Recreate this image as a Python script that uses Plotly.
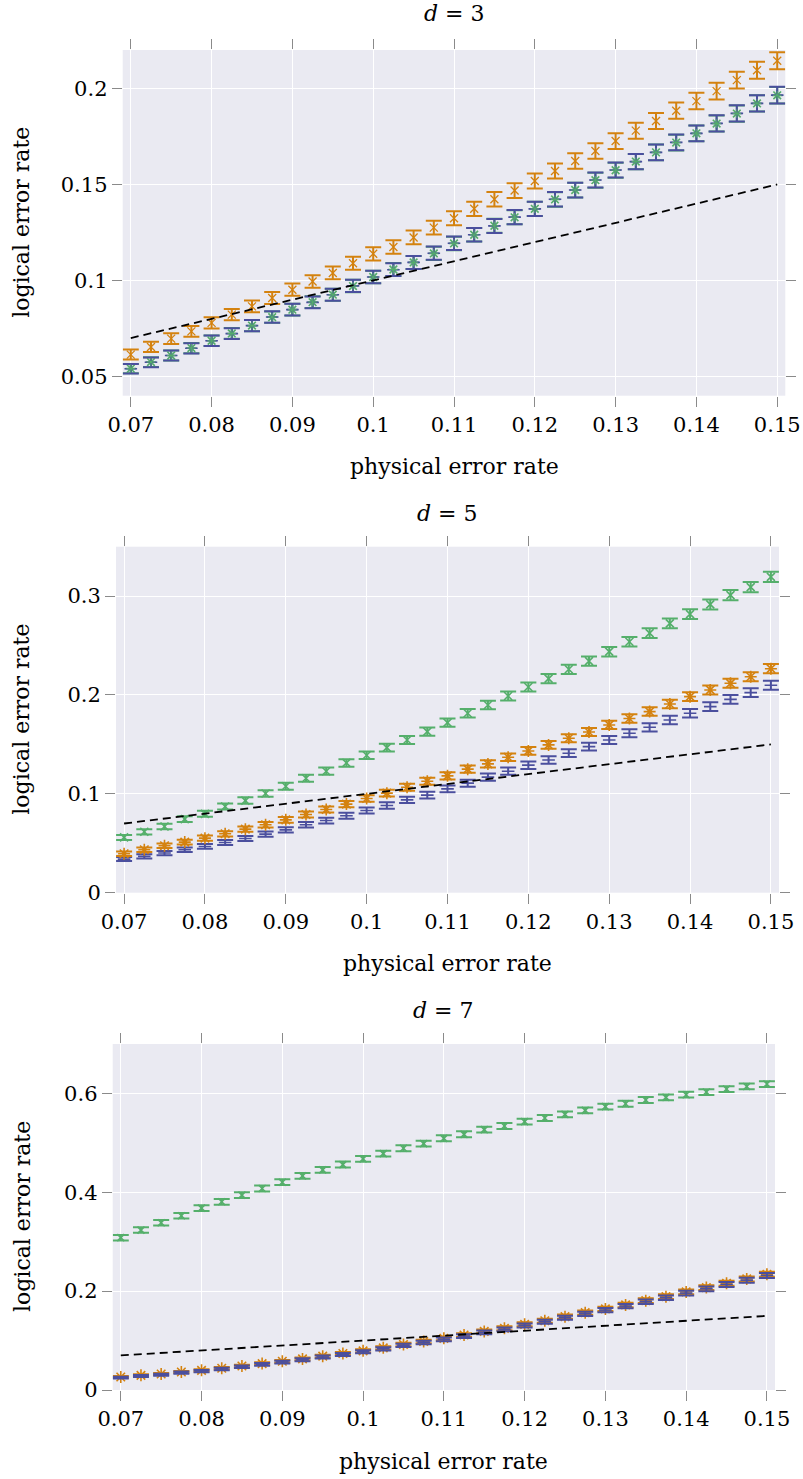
import plotly.graph_objects as go
import numpy as np

# ---------------- data ----------------
p_phys = [0.07, 0.0725, 0.075, 0.0775, 0.08, 0.0825, 0.085, 0.0875, 0.09, 0.0925,
          0.095, 0.0975, 0.1, 0.1025, 0.105, 0.1075, 0.11, 0.1125, 0.115, 0.1175,
          0.12, 0.1225, 0.125, 0.1275, 0.13, 0.1325, 0.135, 0.1375, 0.14, 0.1425,
          0.145, 0.1475, 0.15]

# d = 3
d3_orange = [0.0614, 0.0654, 0.0697, 0.0735, 0.0779, 0.0822, 0.0865, 0.0909, 0.0952, 0.0995,
             0.1039, 0.109, 0.1139, 0.1174, 0.1224, 0.1275, 0.1324, 0.1373, 0.1423, 0.1468,
             0.1518, 0.157, 0.1622, 0.1674, 0.1726, 0.178, 0.183, 0.1884, 0.1934, 0.1986,
             0.2043, 0.2095, 0.2144]
d3_blue = [0.054, 0.0574, 0.0609, 0.0647, 0.0686, 0.0723, 0.0765, 0.081, 0.0848, 0.0886,
           0.0926, 0.0972, 0.1018, 0.1056, 0.1094, 0.1142, 0.1194, 0.1238, 0.1284, 0.133,
           0.1373, 0.1423, 0.1471, 0.1523, 0.1575, 0.1619, 0.1667, 0.1719, 0.1766, 0.1818,
           0.187, 0.1922, 0.1965]
d3_green = [0.0541, 0.0575, 0.0609, 0.0648, 0.0686, 0.0724, 0.0765, 0.0809, 0.0848, 0.0887,
            0.0926, 0.0971, 0.1018, 0.1057, 0.1094, 0.1141, 0.1193, 0.1238, 0.1285, 0.1329,
            0.1373, 0.1422, 0.1471, 0.1522, 0.1574, 0.1619, 0.1667, 0.1718, 0.1766, 0.1817,
            0.1869, 0.1922, 0.1964]

# d = 5
d5_orange = [0.0394, 0.0434, 0.0475, 0.0512, 0.0552, 0.0596, 0.0643, 0.0687, 0.0737, 0.0791,
             0.0842, 0.0896, 0.0953, 0.1007, 0.1067, 0.1128, 0.1182, 0.125, 0.1303, 0.137,
             0.1434, 0.1495, 0.1562, 0.1626, 0.1697, 0.1762, 0.1832, 0.1909, 0.1983, 0.2051,
             0.2118, 0.2185, 0.2266]
d5_blue = [0.034, 0.0367, 0.0401, 0.0434, 0.0468, 0.0508, 0.0549, 0.0593, 0.0636, 0.0687,
           0.073, 0.0778, 0.0831, 0.0882, 0.0939, 0.0987, 0.105, 0.1108, 0.1169, 0.1229,
           0.129, 0.1343, 0.1411, 0.1478, 0.1545, 0.1613, 0.1673, 0.1747, 0.1815, 0.1882,
           0.1956, 0.2024, 0.2098]
d5_green = [0.0559, 0.0616, 0.067, 0.0744, 0.0798, 0.0872, 0.0932, 0.1003, 0.1077, 0.1158,
            0.1229, 0.1313, 0.139, 0.1468, 0.1545, 0.163, 0.172, 0.1815, 0.1899, 0.199,
            0.2081, 0.2165, 0.226, 0.2343, 0.2438, 0.2539, 0.2626, 0.2724, 0.2818, 0.2916,
            0.301, 0.3091, 0.3195]

# d = 7
d7_orange = [0.0262, 0.0296, 0.0323, 0.0364, 0.0398, 0.0439, 0.0486, 0.0534, 0.0581, 0.0629,
             0.0684, 0.0738, 0.0792, 0.0853, 0.0921, 0.0982, 0.1045, 0.1112, 0.1186, 0.1248,
             0.1329, 0.1402, 0.1484, 0.1564, 0.164, 0.1721, 0.1808, 0.1889, 0.1984, 0.2072,
             0.216, 0.2247, 0.2342]
d7_blue = [0.0249, 0.0283, 0.0309, 0.035, 0.0383, 0.0424, 0.047, 0.0518, 0.0565, 0.0612,
           0.0666, 0.072, 0.0773, 0.0834, 0.0902, 0.0962, 0.1025, 0.1091, 0.1165, 0.1226,
           0.1307, 0.138, 0.1461, 0.1541, 0.1616, 0.1697, 0.1784, 0.1865, 0.196, 0.2047,
           0.2135, 0.2222, 0.2317]
d7_green = [0.3082, 0.3235, 0.3384, 0.3525, 0.3679, 0.3808, 0.3942, 0.4077, 0.4204, 0.4333,
            0.4454, 0.4561, 0.4676, 0.4783, 0.489, 0.4985, 0.5092, 0.5173, 0.5267, 0.5342,
            0.5429, 0.5503, 0.5576, 0.5657, 0.5732, 0.5792, 0.5867, 0.592, 0.5974, 0.6028,
            0.6089, 0.6141, 0.619]

shots = [8500, 8000, 7000]   # samples per point (for binomial error bars)

x_tickvals = [0.07, 0.08, 0.09, 0.1, 0.11, 0.12, 0.13, 0.14, 0.15]
x_ticktext = ["0.07", "0.08", "0.09", "0.1", "0.11", "0.12", "0.13", "0.14", "0.15"]
y_ticks = [
    ([0.05, 0.1, 0.15, 0.2], ["0.05", "0.1", "0.15", "0.2"]),
    ([0, 0.1, 0.2, 0.3], ["0", "0.1", "0.2", "0.3"]),
    ([0, 0.2, 0.4, 0.6], ["0", "0.2", "0.4", "0.6"]),
]
titles = ["<i>d</i> = 3", "<i>d</i> = 5", "<i>d</i> = 7"]

# ---------------- style / layout ----------------
W, H = 803, 1479
ORANGE = "#D4820F"
BLUE = "#4B4F9E"
GREEN = "#55AF6B"
BG = "#EAEAF2"
FONT = "DejaVu Serif"
FS = 22
TFS = 21

# pixel boxes of the three panels: (left, right, top, bottom)
boxes = [(122.7, 785.3, 50.0, 395.7),
         (116.0, 779.0, 546.7, 892.7),
         (112.7, 775.0, 1044.0, 1390.0)]
y_ranges = [[0.04, 0.22], [0.0, 0.35], [0.0, 0.70]]
title_y = [13, 513, 1010]


def px_x(v):
    return v / W


def px_y(v):
    return 1 - v / H


def err(vals, n):
    v = np.array(vals)
    return np.sqrt(v * (1 - v) / n)


fig = go.Figure()

panels = [
    dict(o=d3_orange, b=d3_blue, g=d3_green, osym="x-thin-open", gsym="asterisk-open"),
    dict(o=d5_orange, b=d5_blue, g=d5_green, osym="asterisk-open", gsym="x-thin-open"),
    dict(o=d7_orange, b=d7_blue, g=d7_green, osym="asterisk-open", gsym="x-thin-open"),
]

annotations = []
for i, pn in enumerate(panels):
    k = "" if i == 0 else str(i + 1)
    xa, ya = "x" + k, "y" + k
    n = shots[i]

    def add(vals, color, sym, msize, lw=1.6, show_err=True):
        fig.add_trace(go.Scatter(
            x=p_phys, y=vals, mode="markers", xaxis=xa, yaxis=ya, showlegend=False,
            marker=dict(symbol=sym, size=msize, color=color,
                        line=dict(color=color, width=lw)),
            error_y=dict(type="data", array=err(vals, n), visible=show_err,
                         color=color, thickness=2, width=8),
        ))

    if i == 0:
        add(pn["g"], GREEN, pn["gsym"], 9)
        add(pn["o"], ORANGE, pn["osym"], 8, lw=1.3)
        add(pn["b"], BLUE, "line-ew-open", 9)
        add(pn["g"], GREEN, pn["gsym"], 7, lw=1.0, show_err=False)
    elif i == 1:
        add(pn["g"], GREEN, pn["gsym"], 8)
        add(pn["b"], BLUE, "line-ew-open", 9)
        add(pn["o"], ORANGE, pn["osym"], 10)
    else:
        add(pn["g"], GREEN, pn["gsym"], 7)
        add(pn["o"], ORANGE, pn["osym"], 10)
        add(pn["b"], BLUE, "line-ew-open", 9)

    # reference line: logical = physical
    fig.add_trace(go.Scatter(
        x=[p_phys[0], p_phys[-1]], y=[p_phys[0], p_phys[-1]], mode="lines",
        xaxis=xa, yaxis=ya, showlegend=False,
        line=dict(color="black", width=1.8, dash="8px,5px"),
    ))

    L, R, T, B = boxes[i]
    common = dict(showgrid=True, gridcolor="white", gridwidth=1, zeroline=False,
                  showline=False, ticks="outside", ticklen=10, tickwidth=1,
                  tickcolor="#8a8a8a", mirror="ticks", automargin=False,
                  tickfont=dict(family=FONT, size=TFS, color="black"))
    fig.update_layout(**{
        "xaxis" + k: dict(domain=[px_x(L), px_x(R)], anchor=ya, range=[0.069, 0.151],
                          tickmode="array", tickvals=x_tickvals, ticktext=x_ticktext,
                          **common),
        "yaxis" + k: dict(domain=[px_y(B), px_y(T)], anchor=xa, range=y_ranges[i],
                          tickmode="array", tickvals=y_ticks[i][0], ticktext=y_ticks[i][1],
                          **common),
    })
    cx = px_x((L + R) / 2)
    annotations.append(dict(text=titles[i], x=cx, y=px_y(title_y[i]), xref="paper",
                            yref="paper", showarrow=False, xanchor="center", yanchor="middle",
                            font=dict(family=FONT, size=FS, color="black")))
    annotations.append(dict(text="physical error rate", x=cx, y=px_y(B + 71),
                            xref="paper", yref="paper", showarrow=False,
                            xanchor="center", yanchor="middle",
                            font=dict(family=FONT, size=FS, color="black")))
    annotations.append(dict(text="logical error rate", x=px_x(22), y=px_y((T + B) / 2),
                            xref="paper", yref="paper", showarrow=False, textangle=-90,
                            xanchor="center", yanchor="middle",
                            font=dict(family=FONT, size=FS, color="black")))

fig.update_layout(width=W, height=H, margin=dict(l=0, r=0, t=0, b=0),
                  paper_bgcolor="white", plot_bgcolor=BG,
                  annotations=annotations,
                  font=dict(family=FONT, size=FS, color="black"))

fig.write_html("out.html", config={"displayModeBar": False},
               post_script="document.body.style.margin='0px';")
